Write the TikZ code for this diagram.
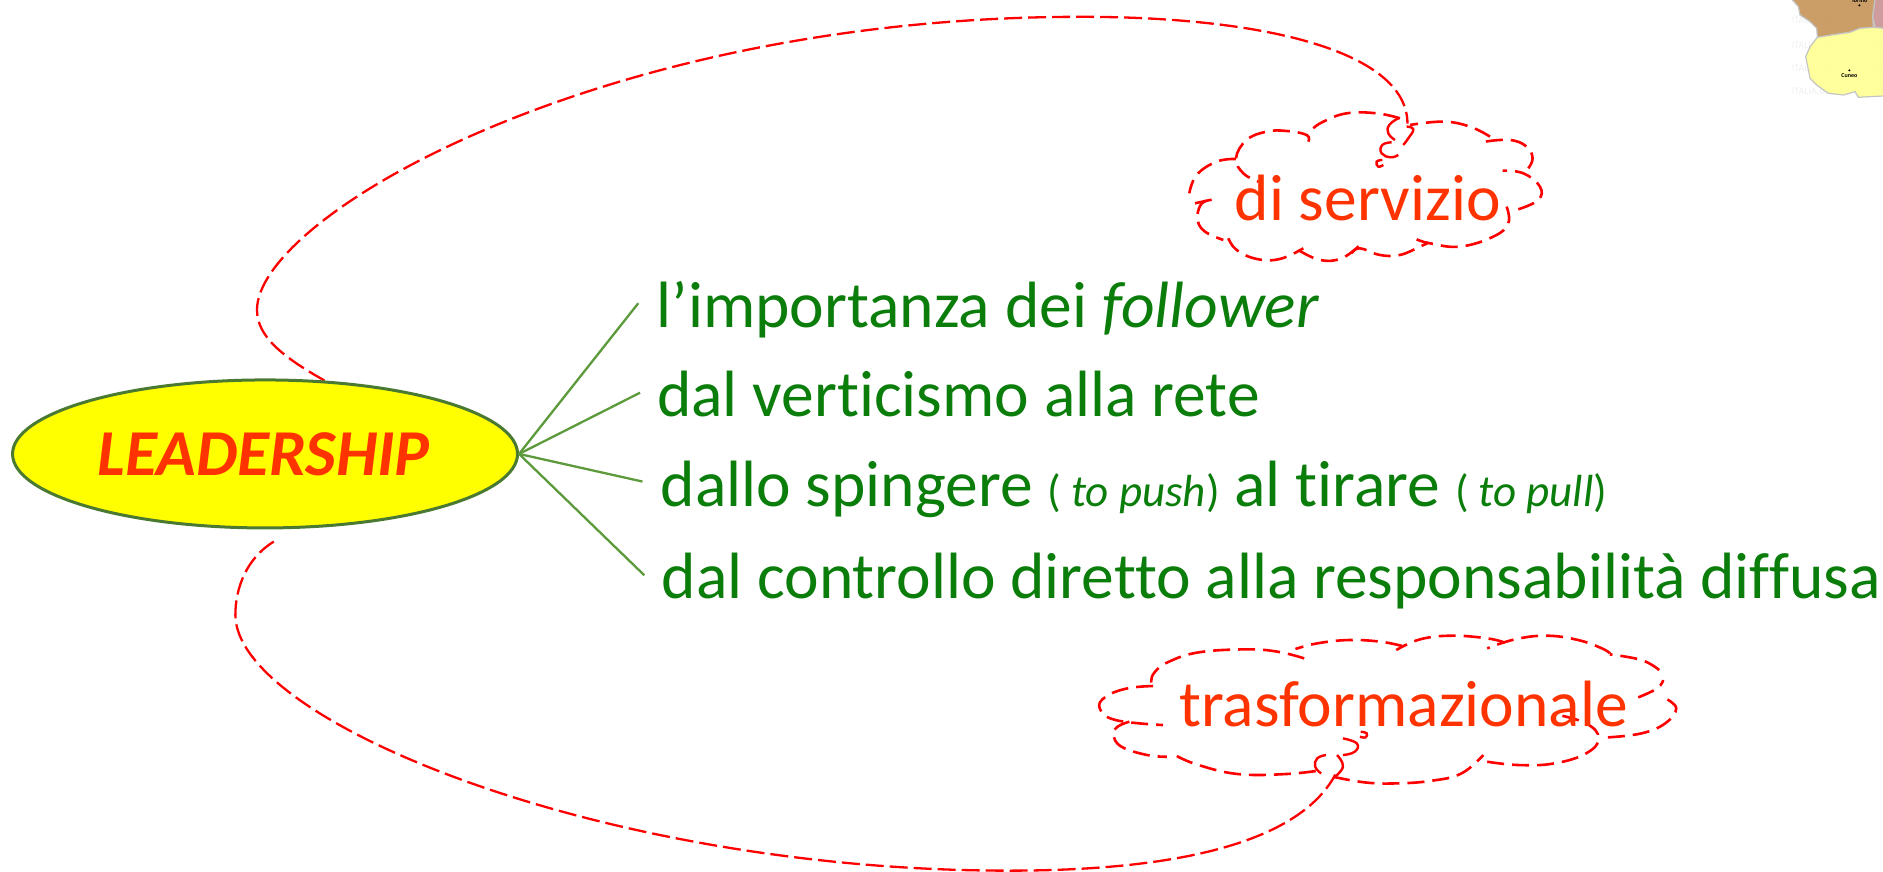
\documentclass[tikz,border=0pt]{standalone}
\usepackage{fontspec}
\usetikzlibrary{shapes.geometric,backgrounds}
\setmainfont{Carlito}[Ligatures=NoCommon]
\definecolor{orangered}{HTML}{FF3300}
\definecolor{txtgreen}{HTML}{0A7D0A}
\definecolor{linegreen}{HTML}{5C9A3C}
\definecolor{ellgreen}{HTML}{4A7A32}
\definecolor{pureyellow}{HTML}{FFFF00}
\definecolor{mapbrown}{HTML}{C99A62}
\definecolor{mappink}{HTML}{CE9C9C}
\definecolor{mapyellow}{HTML}{FFFF99}
\definecolor{mapedge}{HTML}{C4C4C4}
\definecolor{wm}{HTML}{EFEFEF}
\tikzset{
  branch/.style={draw=linegreen,line width=2.3pt},
  leaf/.style={anchor=base west,inner sep=0pt,text=txtgreen,font=\fontsize{65.5}{70}\selectfont},
  cloudtext/.style={anchor=base west,inner sep=0pt,text=orangered,font=\fontsize{65.5}{70}\selectfont},
  link/.style={draw=red,line width=2.3pt,dash pattern=on 18pt off 6pt},
  puff/.style={draw=red,line width=2.6pt,dash pattern=on 17pt off 8pt},
  tiny/.style={draw=red,line width=2.4pt},
  region/.style={draw=mapedge,line width=1.2pt},
  wmark/.style={text=wm,inner sep=0pt,font=\fontsize{10}{10}\selectfont,anchor=west},
}
\newcommand{\puffline}[1]{\draw[puff] plot[smooth,tension=.7] coordinates {#1};}
\newcommand{\tinyline}[1]{\draw[tiny] plot[smooth,tension=.8] coordinates {#1};}
\begin{document}
\begin{tikzpicture}[x=1.2009pt,y=-1.2009pt]
\useasboundingbox (0,0) rectangle (1568,726.1);
% map corner
\begin{scope}
\clip (0,0) rectangle (1568,726.1);
\begin{scope}[shift={(1465.6,0)},x=0.3333pt,y=-0.3333pt]
\foreach \r in {60,135,205,275}{
  \node[wmark] (w\r a) at (95,\r) {ITALIA.BIZ};
  \node[wmark] (w\r b) at (325,\r) {ITALIA.BIZ};
}
\path[region,fill=mapbrown,fill opacity=.97] (95,-2) -- (115,20) -- (120,45) -- (150,65) -- (170,85) -- (172,112) -- (215,105) -- (270,97) -- (300,85) -- (340,82) -- (338,50) -- (345,-2) -- cycle;
\path[region,fill=mappink] (345,-2) -- (338,50) -- (345,82) -- (372,85) -- (372,-2) -- cycle;
\path[region,fill=mapyellow,fill opacity=.97] (172,112) -- (215,105) -- (270,97) -- (300,85) -- (340,82) -- (372,85) -- (372,288) -- (330,290) -- (295,292) -- (285,275) -- (250,285) -- (205,280) -- (170,255) -- (150,235) -- (137,170) -- (150,140) -- cycle;
\fill (298,16) circle (3.5);
\fill (268,211) circle (3.5);
\node[inner sep=0pt,font=\fontsize{6}{6}\selectfont\bfseries] (torino) at (298,2) {Torino};
\node[inner sep=0pt,font=\fontsize{6}{6}\selectfont\bfseries] (cuneo) at (268,226) {Cuneo};
\end{scope}
\end{scope}
% nodes
\node[draw=ellgreen,line width=3pt,fill=pureyellow,ellipse,minimum width=505pt,minimum height=148pt,inner sep=0pt,text=orangered,font=\fontsize{65.5}{70}\selectfont\bfseries\itshape] (ell) at (220.7,378) {\kern-3pt LEADERSHIP};
\coordinate (a2) at (228,451);
\node[cloudtext] (n1) at (1028,184) {di servizio};
\node[cloudtext] (n2) at (982,605) {trasformazionale};
\coordinate (c1) at (1172,103);
\coordinate (c2) at (1112,645);
% connectors
\begin{scope}[on background layer]
\draw[link] (ell.51) .. controls (235,297) and (214,280) .. (214,258) .. controls (214,180) and (500,14) .. (900,14) .. controls (1060,14) and (1172,45) .. (c1);
\draw[link] (a2) .. controls (205,465) and (196,490) .. (196,512) .. controls (196,600) and (500,725) .. (840,725) .. controls (1000,725) and (1085,695) .. (c2);
% cloud 1
\begin{scope}[shift={(957.6,66.6)},x=0.3333pt,y=-0.3333pt]
\puffline{(475,185) (470,165) (410,153) (350,155) (290,180) (258,235) (280,280) (325,305)}
\puffline{(258,237) (200,245) (140,285) (118,340)}
\puffline{(135,370) (190,358)}
\puffline{(170,362) (150,378) (143,420) (165,455) (220,480)}
\puffline{(235,475) (260,510) (320,537) (390,537) (460,505)}
\puffline{(445,510) (510,540) (575,535) (630,495)}
\puffline{(605,520) (630,505) (690,525) (750,525) (810,500) (835,488)}
\puffline{(800,478) (840,490) (930,500) (1030,470) (1075,430) (1070,380)}
\puffline{(1105,388) (1165,360) (1170,320) (1120,280) (1058,272)}
\puffline{(1135,265) (1148,235) (1130,200) (1080,180) (1005,185)}
\puffline{(1020,170) (960,140) (880,125) (780,135)}
\puffline{(750,115) (680,100) (590,100) (520,125) (490,145)}
\tinyline{(745,115) (718,135) (715,160) (735,180)}
\tinyline{(770,140) (790,148) (775,175) (760,195)}
\tinyline{(725,187) (697,195) (695,220) (722,232) (745,225)}
\tinyline{(697,240) (680,245) (685,260) (700,255)}
\end{scope}
% cloud 2
\begin{scope}[shift={(899.3,516.3)},x=0.3954pt,y=-0.3334pt]
\puffline{(567,115) (500,95) (420,88) (300,97) (225,125) (190,155) (180,185) (190,208)}
\puffline{(185,198) (120,205) (65,230) (50,265) (90,300) (210,315)}
\puffline{(125,305) (95,320) (85,345) (105,380) (170,405) (220,410)}
\puffline{(245,408) (300,435) (400,462) (520,462) (615,450)}
\puffline{(640,470) (720,487) (800,490) (890,482) (965,460) (1020,405)}
\puffline{(1030,425) (1110,435) (1200,430) (1280,400) (1312,355) (1280,310) (1200,282)}
\puffline{(1335,352) (1420,340) (1480,310) (1508,265) (1480,235)}
\puffline{(1412,232) (1460,205) (1475,180)}
\puffline{(1465,150) (1420,120) (1340,103)}
\puffline{(1340,100) (1320,85) (1260,60) (1180,47) (1100,58) (1030,85)}
\puffline{(1075,68) (1030,55) (940,47) (860,58) (800,90)}
\puffline{(815,78) (760,65) (680,60) (600,70) (545,87)}
\tinyline{(650,405) (665,440) (640,475)}
\tinyline{(622,405) (600,415) (595,440) (610,460)}
\tinyline{(665,355) (700,370) (695,395) (665,405)}
\tinyline{(710,335) (725,340) (722,352) (708,350)}
\end{scope}
\end{scope}
% branches
\coordinate (t1) at (531.5,252.5);
\coordinate (t2) at (533,327);
\coordinate (t3) at (535,401);
\coordinate (t4) at (536.5,479);
\foreach \t in {t1,t2,t3,t4} \draw[branch] (ell.east) -- (\t);
\node[leaf] (f1) at (546.5,273) {l’importanza dei \textit{follower}};
\node[leaf] (f2) at (547,347) {dal verticismo alla rete};
\node[leaf] (f3) at (550,422) {dallo spingere {\fontsize{45}{50}\selectfont ( \textit{to push})} al tirare {\fontsize{45}{50}\selectfont ( \textit{to pull})}};
\node[leaf] (f4) at (551,498) {dal controllo diretto alla responsabilità diffusa};
\end{tikzpicture}
\end{document}
